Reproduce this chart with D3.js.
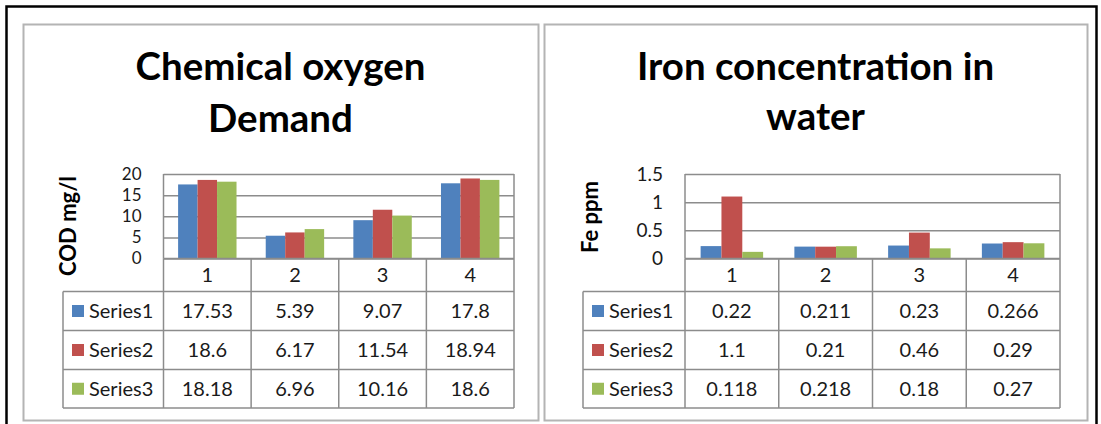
<!DOCTYPE html>
<html>
<head>
<meta charset="utf-8">
<script src="https://cdn.jsdelivr.net/npm/d3@7/dist/d3.min.js"></script>
<style>
  html, body { margin: 0; padding: 0; background: #fff; }
  svg { display: block; font-family: Lato, "Open Sans", sans-serif; }
</style>
</head>
<body>
<svg id="chart" width="1101" height="424"></svg>
<script>
// Shared category labels and series names
const categories = ["1", "2", "3", "4"];
const seriesNames = ["Series1", "Series2", "Series3"];
const seriesColors = ["#4F81BD", "#C0504D", "#9BBB59"];

// Chemical oxygen demand (mg/l)
const codSeries1 = [17.53, 5.39, 9.07, 17.8];
const codSeries2 = [18.6, 6.17, 11.54, 18.94];
const codSeries3 = [18.18, 6.96, 10.16, 18.6];
const codTicks = [0, 5, 10, 15, 20];
const codTableText = [
  ["17.53", "5.39", "9.07", "17.8"],
  ["18.6", "6.17", "11.54", "18.94"],
  ["18.18", "6.96", "10.16", "18.6"]
];

// Iron concentration (ppm)
const feSeries1 = [0.22, 0.211, 0.23, 0.266];
const feSeries2 = [1.1, 0.21, 0.46, 0.29];
const feSeries3 = [0.118, 0.218, 0.18, 0.27];
const feTicks = [0, 0.5, 1, 1.5];
const feTableText = [
  ["0.22", "0.211", "0.23", "0.266"],
  ["1.1", "0.21", "0.46", "0.29"],
  ["0.118", "0.218", "0.18", "0.27"]
];

const svg = d3.select("#chart");

// outer frame
svg.append("rect")
  .attr("x", 6.5).attr("y", 6.5).attr("width", 1090).attr("height", 430)
  .attr("fill", "none").attr("stroke", "#000").attr("stroke-width", 2.5);

// measure helper to size title text to a given width
function fitSize(text, weight, targetWidth) {
  const t = svg.append("text").attr("font-size", 100).attr("font-weight", weight).text(text);
  const w = t.node().getComputedTextLength();
  t.remove();
  return 100 * targetWidth / w;
}
const titleSize = fitSize("Chemical oxygen", "bold", 290);

function drawPanel(cfg) {
  const g = svg.append("g");

  // panel border
  g.append("rect")
    .attr("x", cfg.panel[0] + 0.5).attr("y", cfg.panel[1] + 0.5)
    .attr("width", cfg.panel[2] - cfg.panel[0]).attr("height", cfg.panel[3] - cfg.panel[1])
    .attr("fill", "#fff").attr("stroke", "#b4b4b4").attr("stroke-width", 2);

  // title
  const cx = (cfg.panel[0] + cfg.panel[2]) / 2;
  cfg.title.forEach((line, i) => {
    g.append("text")
      .attr("x", cx).attr("y", cfg.titleBase[i])
      .attr("text-anchor", "middle")
      .attr("font-size", titleSize).attr("font-weight", "bold")
      .attr("fill", "#000")
      .text(line);
  });

  const x0 = d3.scaleBand().domain(categories).range([cfg.plotLeft, cfg.plotRight]);
  const x1 = d3.scaleBand().domain(seriesNames).range([0, x0.bandwidth()]).paddingOuter(0.75).paddingInner(0);
  const y = d3.scaleLinear().domain([0, cfg.ticks[cfg.ticks.length - 1]]).range([cfg.zeroY, cfg.topY]);

  // gridlines and tick labels
  const yAxis = d3.axisLeft(y).tickValues(cfg.ticks).tickSize(-(cfg.plotRight - cfg.plotLeft)).tickPadding(22)
    .tickFormat(d3.format("~g"));
  const ax = g.append("g").attr("transform", `translate(${cfg.plotLeft},0)`).call(yAxis);
  ax.select(".domain").remove();
  ax.selectAll(".tick line").attr("stroke", "#8c8c8c").attr("stroke-width", 1.5);
  ax.selectAll(".tick text").attr("font-size", cfg.tickFont).attr("fill", "#1a1a1a")
    .attr("font-family", "Lato, 'Open Sans', sans-serif");

  // y axis line
  g.append("line")
    .attr("x1", cfg.plotLeft).attr("x2", cfg.plotLeft)
    .attr("y1", cfg.topY).attr("y2", cfg.zeroY)
    .attr("stroke", "#8c8c8c").attr("stroke-width", 1.5);

  // y axis title
  g.append("text")
    .attr("transform", `translate(${cfg.yTitleX},${cfg.yTitleY}) rotate(-90)`)
    .attr("text-anchor", "middle").attr("dy", "0.35em")
    .attr("font-size", 22).attr("font-weight", "bold").attr("fill", "#000")
    .text(cfg.yTitle);

  // bars
  const groups = g.append("g").selectAll("g").data(categories).join("g")
    .attr("transform", d => `translate(${x0(d)},0)`);
  groups.selectAll("rect")
    .data((c, ci) => cfg.series.map((s, si) => ({ name: seriesNames[si], value: s[ci], color: seriesColors[si] })))
    .join("rect")
    .attr("x", d => x1(d.name))
    .attr("width", x1.bandwidth())
    .attr("y", d => y(d.value))
    .attr("height", d => cfg.zeroY - y(d.value))
    .attr("fill", d => d.color);

  // data table
  const rows = cfg.rows;
  const lineColor = "#8c8c8c";
  const tbl = g.append("g").attr("stroke", lineColor).attr("stroke-width", 1.5).attr("fill", "none");
  tbl.append("line").attr("x1", cfg.plotLeft).attr("x2", cfg.plotRight).attr("y1", rows[0]).attr("y2", rows[0]);
  for (let i = 1; i < rows.length; i++) {
    tbl.append("line").attr("x1", cfg.legendLeft).attr("x2", cfg.plotRight).attr("y1", rows[i]).attr("y2", rows[i]);
  }
  tbl.append("line").attr("x1", cfg.legendLeft).attr("x2", cfg.legendLeft).attr("y1", rows[1]).attr("y2", rows[rows.length - 1]);
  categories.forEach(c => {
    tbl.append("line").attr("x1", x0(c)).attr("x2", x0(c)).attr("y1", rows[0]).attr("y2", rows[rows.length - 1]);
  });
  tbl.append("line").attr("x1", cfg.plotRight).attr("x2", cfg.plotRight).attr("y1", cfg.topY).attr("y2", rows[rows.length - 1]);

  // header labels
  g.selectAll(".hdr").data(categories).join("text")
    .attr("x", d => x0(d) + x0.bandwidth() / 2)
    .attr("y", (rows[0] + rows[1]) / 2).attr("dy", "0.36em")
    .attr("text-anchor", "middle").attr("font-size", 20).attr("fill", "#1a1a1a")
    .text(d => d);

  // series rows with legend keys
  seriesNames.forEach((name, si) => {
    const cy = (rows[si + 1] + rows[si + 2]) / 2;
    g.append("rect")
      .attr("x", cfg.legendLeft + 9).attr("y", cy - 6)
      .attr("width", 12).attr("height", 12).attr("fill", seriesColors[si]);
    g.append("text")
      .attr("x", cfg.legendLeft + 26).attr("y", cy).attr("dy", "0.36em")
      .attr("font-size", 20).attr("fill", "#1a1a1a").text(name);
    categories.forEach((c, ci) => {
      g.append("text")
        .attr("x", x0(c) + x0.bandwidth() / 2).attr("y", cy).attr("dy", "0.36em")
        .attr("text-anchor", "middle").attr("font-size", 20).attr("fill", "#1a1a1a")
        .text(cfg.tableText[si][ci]);
    });
  });
}

drawPanel({
  panel: [23, 24, 538, 420],
  title: ["Chemical oxygen", "Demand"],
  titleBase: [80, 132],
  plotLeft: 163.5, plotRight: 514,
  topY: 174, zeroY: 258.5,
  ticks: codTicks, tickFont: 17,
  series: [codSeries1, codSeries2, codSeries3],
  tableText: codTableText,
  rows: [258.5, 291.5, 330.5, 369.5, 408],
  legendLeft: 63,
  yTitle: "COD mg/l", yTitleX: 68, yTitleY: 226
});

drawPanel({
  panel: [544, 24, 1087, 420],
  title: ["Iron concentration in", "water"],
  titleBase: [80, 130],
  plotLeft: 685, plotRight: 1060,
  topY: 174, zeroY: 258.5,
  ticks: feTicks, tickFont: 19,
  series: [feSeries1, feSeries2, feSeries3],
  tableText: feTableText,
  rows: [258.5, 291.5, 330.5, 369.5, 408],
  legendLeft: 583,
  yTitle: "Fe ppm", yTitleX: 590, yTitleY: 217
});
</script>
</body>
</html>
